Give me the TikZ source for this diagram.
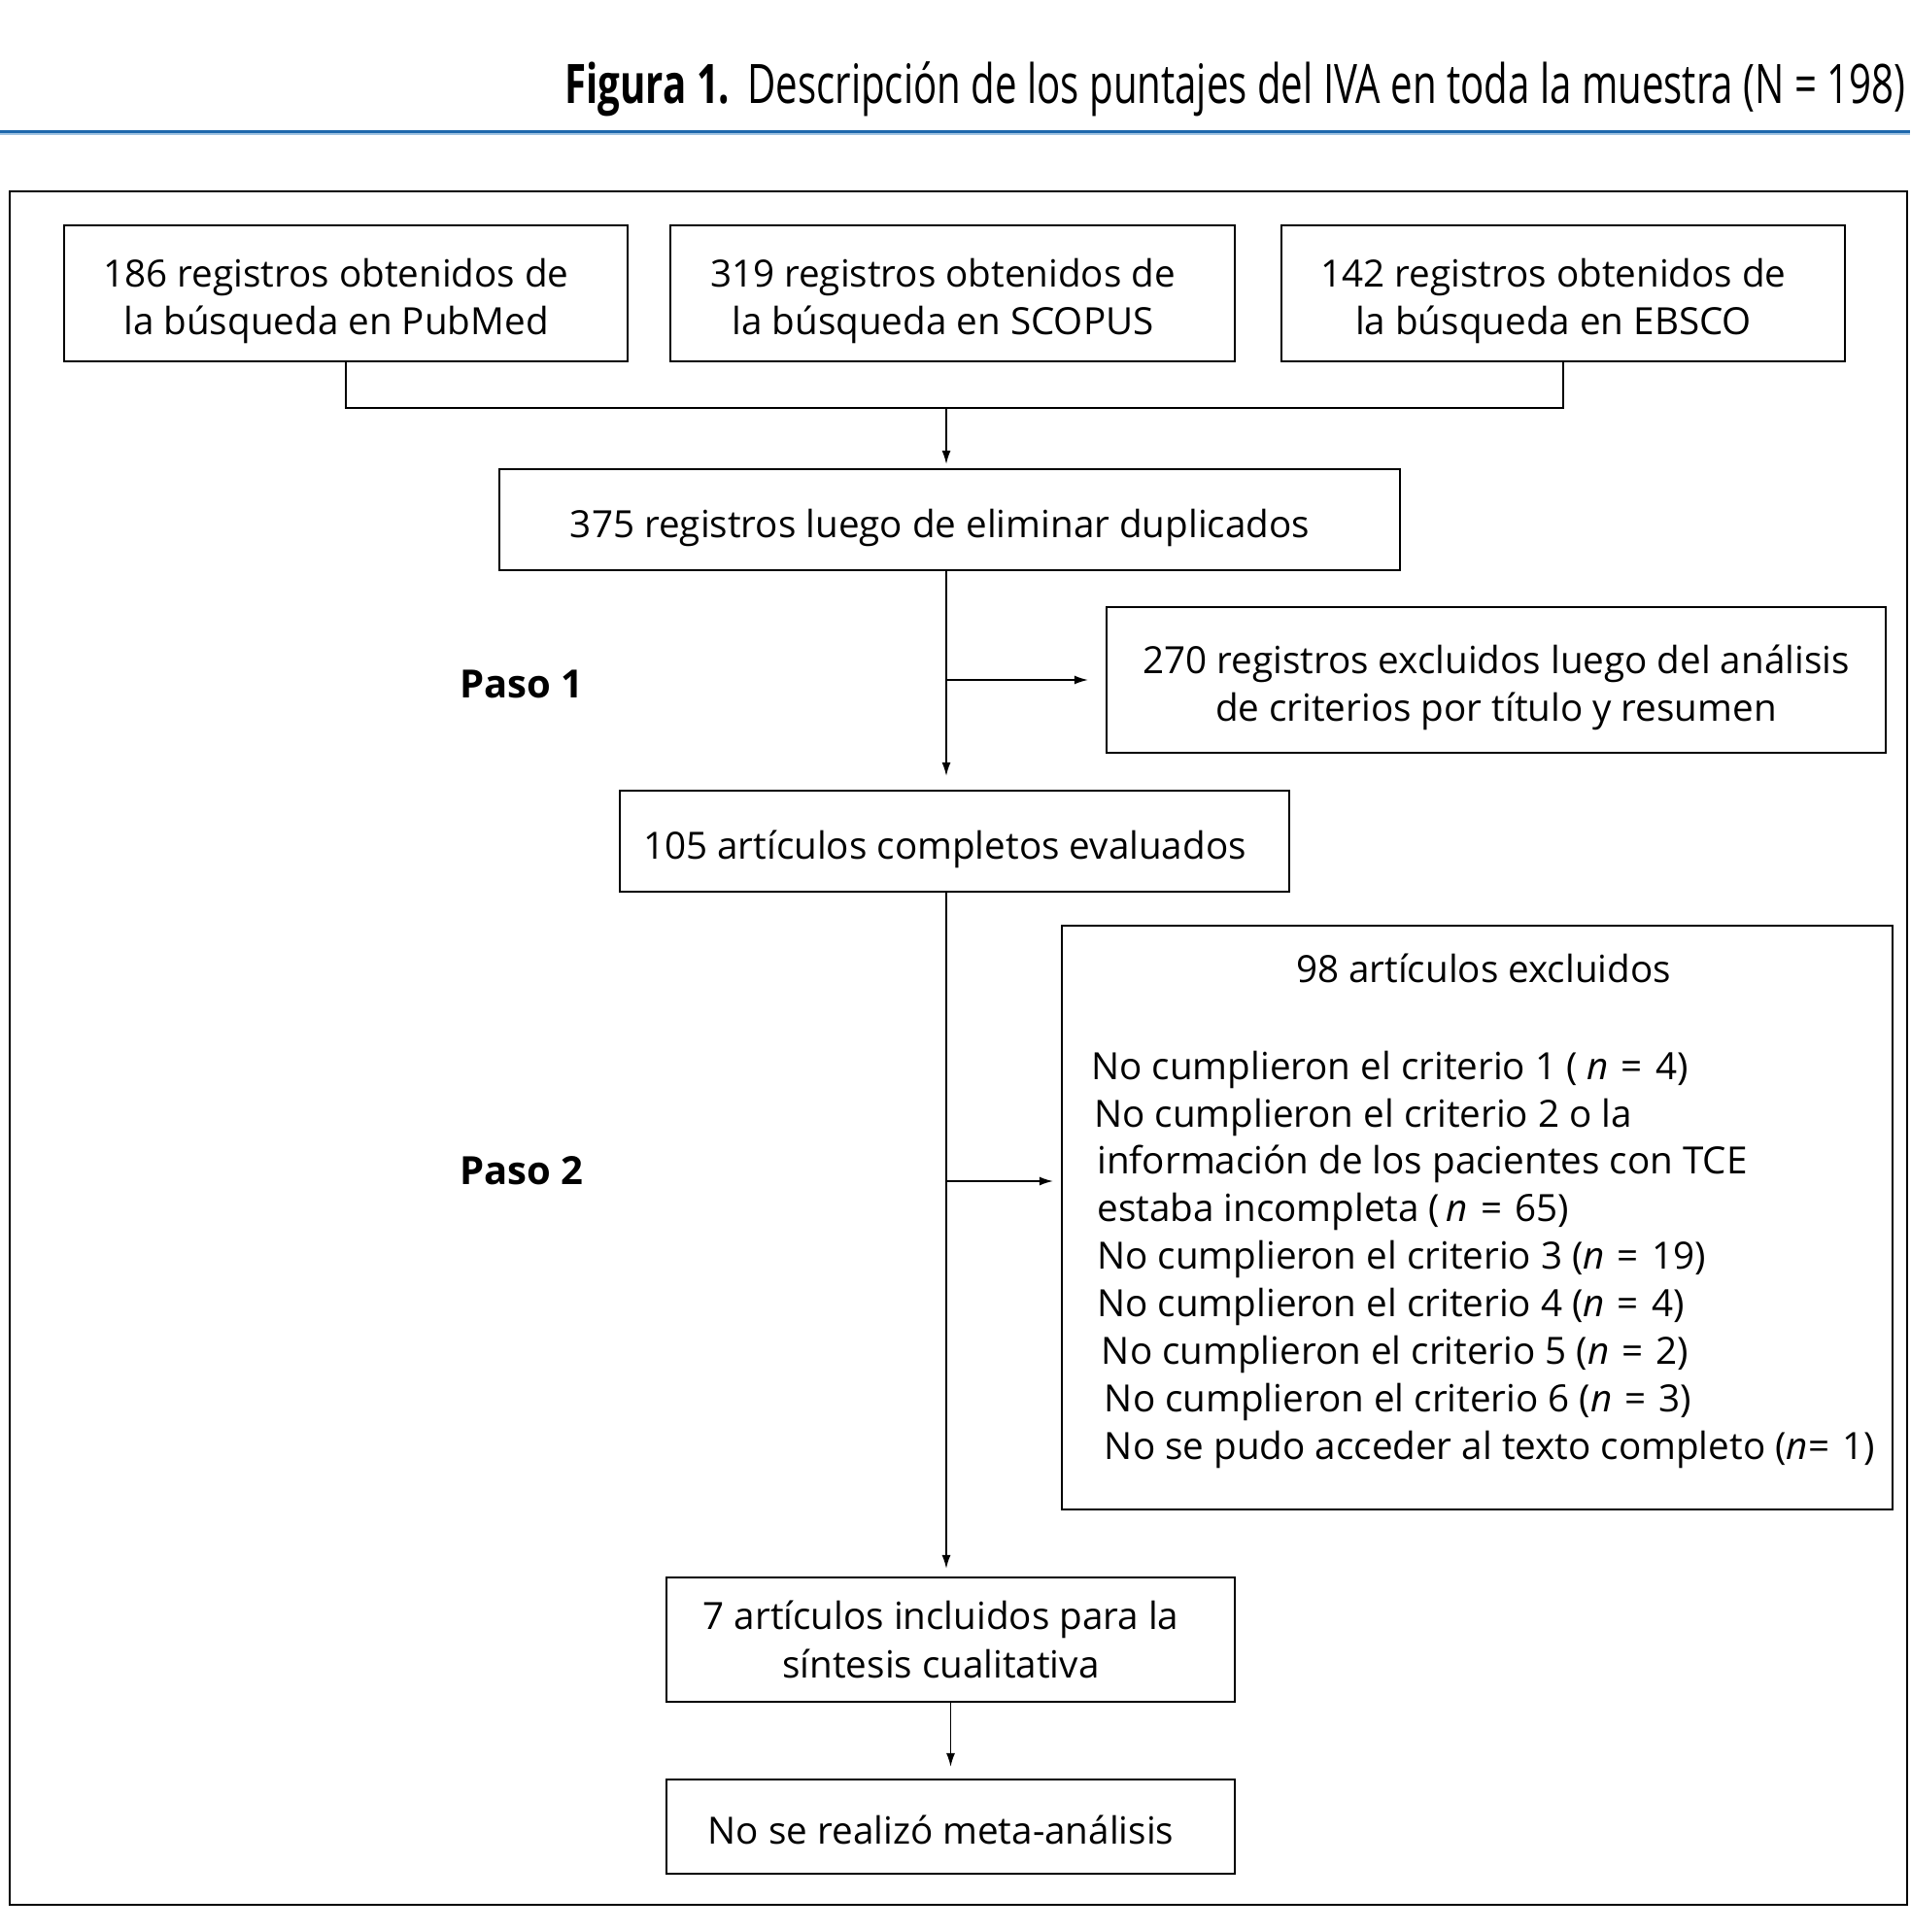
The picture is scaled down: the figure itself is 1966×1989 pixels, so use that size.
\documentclass[tikz,border=0pt]{standalone}
\usepackage{fontspec}
\usepackage{graphicx}
\setmainfont{Open Sans}
\usetikzlibrary{arrows.meta}
\definecolor{titleblue}{RGB}{31,104,172}
\definecolor{lightblue}{RGB}{160,195,225}
\newcommand{\rpad}{\hspace*{10pt}}
\newcommand{\tsl}{\rule{0pt}{23.5pt}}
\newcommand{\bsl}{\rule[-5.5pt]{0pt}{0pt}}
\newcommand{\eqs}{~\hspace{1.5pt}=~\hspace{1.5pt}}
\newcommand{\boxfont}{\fontsize{19.3pt}{24.75pt}\selectfont}
\begin{document}
\begin{tikzpicture}[x=0.5pt,y=-0.5pt,
  box/.style={draw, line width=1.1pt, inner sep=0pt, align=center, font=\boxfont},
  txt/.style={inner sep=0pt, font=\boxfont},
  paso/.style={inner sep=0pt, font=\fontsize{20pt}{24pt}\selectfont\bfseries, anchor=west},
  conn/.style={line width=0.8pt},
  arr/.style={line width=0.8pt, -{Latex[length=7pt,width=4.5pt]}}]
\useasboundingbox (0,0) rectangle (1966,1989);
% title
\node[anchor=base west, inner sep=0pt] (title) at (581,107)
  {\resizebox{690pt}{\height}{\fontsize{28pt}{30pt}\selectfont\textbf{Figura 1.}\hspace{0.45em}Descripción de los puntajes del IVA en toda la muestra (N = 198)}};
\draw[titleblue, line width=1.6pt] (0,135.5) -- (1966,135.5);
\draw[lightblue, line width=1pt] (0,138.5) -- (1966,138.5);
% frame
\draw[line width=1.1pt] (10,197) rectangle (1963,1961);
% boxes
\node[box, minimum width=290pt, minimum height=70pt] (B1) at (356,302)
  {\tsl 186 registros obtenidos de\rpad\\la búsqueda en PubMed\rpad\bsl};
\node[box, minimum width=290.5pt, minimum height=70pt] (B2) at (980.5,302)
  {\tsl 319 registros obtenidos de\rpad\\la búsqueda en SCOPUS\rpad\bsl};
\node[box, minimum width=290pt, minimum height=70pt] (B3) at (1609,302)
  {\tsl 142 registros obtenidos de\rpad\\la búsqueda en EBSCO\rpad\bsl};
\node[box, minimum width=463.5pt, minimum height=52pt] (B4) at (977.5,535)
  {\tsl 375 registros luego de eliminar duplicados\rpad\bsl};
\node[box, minimum width=401pt, minimum height=75pt] (B6) at (1540,700)
  {\tsl 270 registros excluidos luego del análisis\\de criterios por título y resumen\bsl};
\node[box, minimum width=344.5pt, minimum height=52pt] (B5) at (982.5,866)
  {\tsl 105 artículos completos evaluados\rpad\bsl};
\node[box, minimum width=427.5pt, minimum height=300.5pt] (B7) at (1520.5,1253.5) {};
\node[box, minimum width=292.5pt, minimum height=64pt] (B8) at (978.5,1688)
  {7 artículos incluidos para la\rpad\\síntesis cualitativa\rpad};
\node[box, minimum width=292.5pt, minimum height=48.5pt] (B9) at (978.5,1880.5)
  {\tsl No se realizó meta-análisis\rpad\bsl};
% texts inside B7
\node[txt, anchor=base] (T7) at (1527,1011) {98 artículos excluidos};
\node[txt, anchor=base west] (L1) at (1123,1111) {No cumplieron el criterio 1 ( \textit{n}\eqs 4)};
\node[txt, anchor=base west] (L2) at (1126,1160) {No cumplieron el criterio 2 o la};
\node[txt, anchor=base west] (L3) at (1129,1208.5) {información de los pacientes con TCE};
\node[txt, anchor=base west] (L4) at (1129,1257.5) {estaba incompleta (\,\textit{n}\eqs 65)};
\node[txt, anchor=base west] (L5) at (1129,1306.5) {No cumplieron el criterio 3 (\textit{n}\eqs 19)};
\node[txt, anchor=base west] (L6) at (1129,1355) {No cumplieron el criterio 4 (\textit{n}\eqs 4)};
\node[txt, anchor=base west] (L7) at (1133.5,1404) {No cumplieron el criterio 5 (\textit{n}\eqs 2)};
\node[txt, anchor=base west] (L8) at (1136.5,1453.5) {No cumplieron el criterio 6 (\textit{n}\eqs 3)};
\node[txt, anchor=base west] (L9) at (1136.5,1502.5) {No se pudo acceder al texto completo (\textit{n}=~\hspace{1.5pt}1)};
% step labels
\node[paso] (P1) at (473,704) {Paso 1};
\node[paso] (P2) at (473,1205) {Paso 2};
% connectors
\coordinate (ax) at (974,420);
\coordinate (p2) at (974,1216);
\draw[conn] (B1.south) -- (B1.south |- ax) -| (B3.south);
\draw[arr, shorten >=2pt] (ax) -- (ax |- B4.north);
\draw[arr, shorten >=7pt] (ax |- B4.south) -- (ax |- B5.north);
\draw[arr, shorten >=9pt] (ax |- B6.west) -- (B6.west);
\draw[arr, shorten >=4pt] (ax |- B5.south) -- (ax |- B8.north);
\draw[arr, shorten >=4pt] (p2) -- (p2 -| B7.west);
\draw[arr, shorten >=6pt] (B8.south) -- (B9.north);
\end{tikzpicture}
\end{document}
